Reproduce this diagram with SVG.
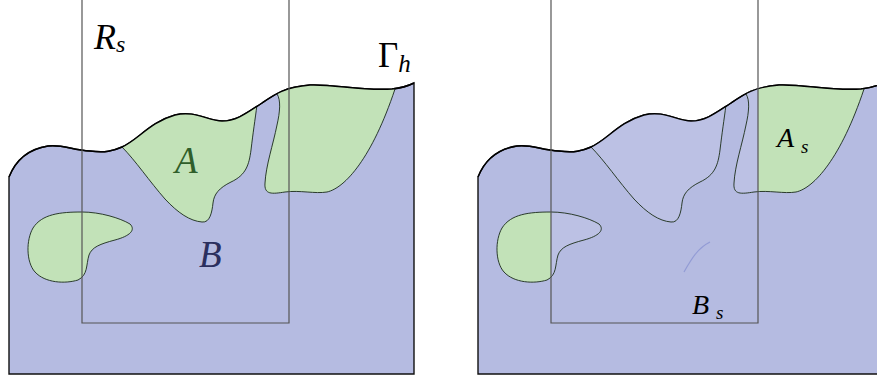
<svg xmlns="http://www.w3.org/2000/svg" xmlns:xlink="http://www.w3.org/1999/xlink" width="877" height="380" viewBox="0 0 877 380">
<style>
.outer{fill:#b5bbe1;stroke:#111;stroke-width:1.4}
.green{fill:#c2e2b8;stroke:none}
.light{fill:#bcc1e4;stroke:none}
.bd{fill:none;stroke:#1a2a1a;stroke-width:0.9}
.top{fill:none;stroke:#000;stroke-width:1.4}
.rect{fill:none;stroke:#555;stroke-width:1.2}
.lbl{font-family:"Liberation Serif","DejaVu Serif",serif;font-style:italic}
.up{font-family:"Liberation Serif","DejaVu Serif",serif}
</style>
<defs>
<path id="outerP" d="M9,374 L9,177 C13,167 22,150 48,146 C62,144 72,150 90,151 C105,153 113,151 122,147 C138,140 150,122 175,115 C195,110 208,121 222,121 C237,121 248,112 262,103 C275,94 285,87 310,85 C335,84 360,91 392,89 C402,88 408,86 414,83 L414,374 Z"/>
<path id="topP" d="M9,177 C13,167 22,150 48,146 C62,144 72,150 90,151 C105,153 113,151 122,147 C138,140 150,122 175,115 C195,110 208,121 222,121 C237,121 248,112 262,103 C275,94 285,87 310,85 C335,84 360,91 392,89 C402,88 408,86 414,83"/>
<path id="a1Fill" d="M122,147 C135,160 150,182 165,199 C178,213 190,221 202,222 C210,223 212,212 213,203 C214,194 219,188 231,182 C246,175 249,165 251,150 C253,133 255,120 257,100 L257,60 L122,60 Z"/>
<path id="a1Bd" d="M122,147 C135,160 150,182 165,199 C178,213 190,221 202,222 C210,223 212,212 213,203 C214,194 219,188 231,182 C246,175 249,165 251,150 C253,133 255,120 257,105"/>
<path id="a2Fill" d="M277,90 C281,100 280,112 277,125 C273,145 266,165 265,183 C264,195 272,194 285,192 C300,190 315,194 327,192 C345,188 372,158 396,86 L396,60 L277,60 Z"/>
<path id="a2Bd" d="M277,94 C281,100 280,112 277,125 C273,145 266,165 265,183 C264,195 272,194 285,192 C300,190 315,194 327,192 C345,188 372,158 395,89"/>
<path id="blobP" d="M82,212 C100,212 120,218 130,224 C136,230 130,236 115,240 C100,244 92,247 89,255 C86,265 88,275 78,280 C65,284 45,283 35,272 C26,262 26,240 33,228 C42,214 60,212 82,212 Z"/>
<clipPath id="clipOuter"><use xlink:href="#outerP"/></clipPath>
<clipPath id="clipRect"><rect x="82" y="0" width="207" height="323"/></clipPath>
</defs>

<g id="left-panel">
  <g id="region-B">
    <use xlink:href="#outerP" class="outer"/>
  </g>
  <g id="region-A" clip-path="url(#clipOuter)">
    <use xlink:href="#a1Fill" class="green"/>
    <use xlink:href="#a2Fill" class="green"/>
    <use xlink:href="#blobP" class="green"/>
    <use xlink:href="#a1Bd" class="bd"/>
    <use xlink:href="#a2Bd" class="bd"/>
    <use xlink:href="#blobP" class="bd"/>
  </g>
  <g id="gamma-h">
    <use xlink:href="#topP" class="top"/>
  </g>
  <g id="rect-Rs">
    <path class="rect" d="M82,0 L82,323 L289,323 L289,0"/>
  </g>
  <text class="lbl" x="94" y="49" font-size="36" fill="#000">R<tspan font-size="24" dy="3">s</tspan></text>
  <text class="up" x="378" y="67" font-size="35" fill="#000">Γ<tspan class="lbl" font-size="25" dy="5">h</tspan></text>
  <text class="lbl" x="175" y="173" font-size="37" fill="#2f5e2a">A</text>
  <text class="lbl" x="199" y="267" font-size="37" fill="#2b2f5e">B</text>
</g>

<g id="right-panel" transform="translate(469,0)">
  <g id="region-B-s">
    <use xlink:href="#outerP" class="outer"/>
  </g>
  <g id="region-A-s" clip-path="url(#clipOuter)">
    <use xlink:href="#a1Fill" class="green"/>
    <use xlink:href="#a2Fill" class="green"/>
    <use xlink:href="#blobP" class="green"/>
    <g clip-path="url(#clipRect)">
      <use xlink:href="#a1Fill" class="light"/>
      <use xlink:href="#a2Fill" class="light"/>
      <use xlink:href="#blobP" class="light"/>
    </g>
    <use xlink:href="#a1Bd" class="bd"/>
    <use xlink:href="#a2Bd" class="bd"/>
    <use xlink:href="#blobP" class="bd"/>
  </g>
  <g id="gamma-h-s">
    <use xlink:href="#topP" class="top"/>
  </g>
  <path d="M215,272 C223,258 229,248 241,242" fill="none" stroke="#8c95d2" stroke-width="1.2" opacity="0.85"/>
  <g id="rect-Rs-s">
    <path class="rect" d="M82,0 L82,323 L289,323 L289,0"/>
  </g>
  <text class="lbl" x="308" y="147" font-size="28" fill="#000">A<tspan font-size="19" dx="7" dy="6">s</tspan></text>
  <text class="lbl" x="223" y="314" font-size="28" fill="#000">B<tspan font-size="19" dx="7" dy="5">s</tspan></text>
</g>
</svg>
